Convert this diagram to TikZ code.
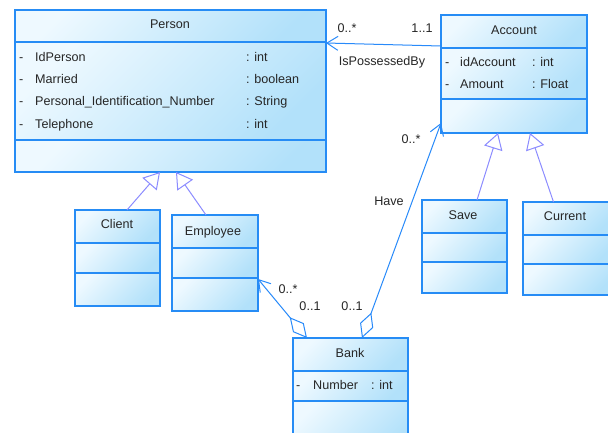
\documentclass[tikz,border=0pt]{standalone}
\usepackage{fontspec}
\setmainfont{Liberation Sans}
\usetikzlibrary{arrows.meta}

\definecolor{boxborder}{RGB}{38,140,245}
\definecolor{boxlight}{RGB}{238,249,255}
\definecolor{boxdark}{RGB}{178,225,250}
\definecolor{assocline}{RGB}{40,138,250}
\definecolor{genline}{RGB}{140,140,255}

\tikzset{
  compfill/.style={top color=boxlight, bottom color=boxdark, shading angle=45},
  classbox/.style={draw=boxborder, line width=1.4pt, inner sep=0pt, outer sep=0pt},
  classline/.style={draw=boxborder, line width=1.4pt},
  txt/.style={inner sep=0pt, text height=9pt, text depth=2.5pt,
    text=black!85, font=\fontsize{12.6}{15}\selectfont},
  attr/.style={txt, anchor=west},
  assoc/.style={draw=assocline, line width=1pt},
  navtip/.style={-{Straight Barb[length=11pt, width=14pt, line width=1pt]}},
  aggnav/.style={{Diamond[open, length=27pt, width=14pt, line width=1pt]}-{Straight Barb[length=11pt, width=14pt, line width=1pt]}},
  inherit/.style={draw=genline, line width=1pt,
    -{Triangle[open, length=16pt, width=19pt, line width=1pt]}},
}

% name, left, top, right, first separator, second separator, bottom
\newcommand\umlclass[7]{%
  \shade[compfill] (#2,#3) rectangle (#4,#5);
  \shade[compfill] (#2,#5) rectangle (#4,#6);
  \shade[compfill] (#2,#6) rectangle (#4,#7);
  \node[classbox, minimum width={(#4-#2)*1pt}, minimum height={(#7-#3)*1pt}]
    (#1) at ({(#2+#4)/2},{(#3+#7)/2}) {};
  \draw[classline] (#2,#5) -- (#4,#5) (#2,#6) -- (#4,#6);
}

\begin{document}
\begin{tikzpicture}[x=1pt, y=-1pt]
\useasboundingbox (0,0) rectangle (608,432);
\fill[white] (0,0) rectangle (608,432);

% classes
\umlclass{person}{15}{10}{326}{42}{140}{172}
\umlclass{account}{441}{15}{587}{48}{99}{133}
\umlclass{client}{75}{210}{160}{243}{273}{306}
\umlclass{employee}{172}{215}{258}{248}{278}{311}
\umlclass{save}{422}{200}{507}{233}{262}{293}
\umlclass{current}{523}{202}{612}{235}{264}{295}
\umlclass{bank}{293}{338}{408}{371}{401}{452}

% class names
\node[txt] (personT) at (170,25) {Person};
\node[txt] (accountT) at (514,31) {Account};
\node[txt] (clientT) at (117,225) {Client};
\node[txt] (employeeT) at (213,232) {Employee};
\node[txt] (saveT) at (463,216) {Save};
\node[txt] (currentT) at (565,217) {Current};
\node[txt] (bankT) at (350,354) {Bank};

% Person attributes
\node[attr] (pd1) at (19,58) {-};
\node[attr] (pa1) at (35,58) {IdPerson};
\node[attr] (pt1) at (246,58) {: int};
\node[attr] (pd2) at (19,80) {-};
\node[attr] (pa2) at (35,80) {Married};
\node[attr] (pt2) at (246,80) {: boolean};
\node[attr] (pd3) at (19,102) {-};
\node[attr] (pa3) at (35,102) {Personal\_Identification\_Number};
\node[attr] (pt3) at (246,102) {: String};
\node[attr] (pd4) at (19,125) {-};
\node[attr] (pa4) at (35,125) {Telephone};
\node[attr] (pt4) at (246,125) {: int};

% Account attributes
\node[attr] (ad1) at (445,63) {-};
\node[attr] (aa1) at (460,63) {idAccount};
\node[attr] (at1) at (532,63) {: int};
\node[attr] (ad2) at (445,85) {-};
\node[attr] (aa2) at (460,85) {Amount};
\node[attr] (at2) at (532,85) {: Float};

% Bank attributes
\node[attr] (bd1) at (296,386) {-};
\node[attr] (ba1) at (313,386) {Number};
\node[attr] (bt1) at (371,386) {: int};

% generalizations
\draw[inherit] ([xshift=9.5pt]client.north) -- ([xshift=-10.5pt]person.south);
\draw[inherit] ([xshift=-9pt]employee.north) -- ([xshift=5.5pt]person.south);
\draw[inherit] ([xshift=12.5pt]save.north) -- ([xshift=-16pt]account.south);
\draw[inherit] ([xshift=-14pt]current.north) -- ([xshift=16pt]account.south);

% associations
\draw[assoc, navtip] ([yshift=28pt]account.west) -- ([yshift=48pt]person.east);
\draw[assoc, aggnav] ([xshift=11.5pt]bank.north) -- ([yshift=-49pt]account.west);
\draw[assoc, aggnav] ([xshift=-43.5pt]bank.north) -- ([yshift=-16pt]employee.east);

% association labels
\node[txt] (m1) at (347,29) {0..*};
\node[txt] (m2) at (422,29) {1..1};
\node[txt] (r1) at (382,62) {IsPossessedBy};
\node[txt] (m3) at (411,140) {0..*};
\node[txt] (r2) at (389,202) {Have};
\node[txt] (m4) at (352,307) {0..1};
\node[txt] (m5) at (288,290) {0..*};
\node[txt] (m6) at (310,307) {0..1};
\end{tikzpicture}
\end{document}
